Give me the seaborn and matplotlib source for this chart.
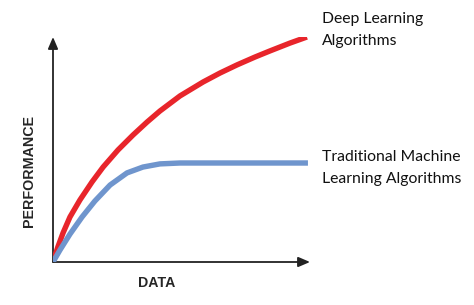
import matplotlib
matplotlib.use("Agg")
import matplotlib.pyplot as plt
import seaborn as sns
import pandas as pd

# Data (arbitrary units, x: 0..10, y: 0..10)
deep_x = [0, 0.19, 0.39, 0.66, 1.05, 1.52, 1.95, 2.53, 3.11, 3.66, 4.16, 4.94,
          5.84, 6.50, 7.16, 7.86, 8.44, 9.22, 9.88]
deep_y = [0, 0.67, 1.29, 2.00, 2.76, 3.56, 4.22, 4.98, 5.64, 6.22, 6.71, 7.38,
          8.00, 8.40, 8.76, 9.11, 9.38, 9.73, 10.0]
trad_x = [0, 0.27, 0.66, 1.13, 1.63, 2.22, 2.88, 3.50, 4.16, 4.94, 9.92]
trad_y = [0, 0.53, 1.24, 2.00, 2.71, 3.42, 3.96, 4.22, 4.36, 4.40, 4.40]

series_names = ["Deep Learning\nAlgorithms", "Traditional Machine\nLearning Algorithms"]
series_colors = ["#e8252b", "#6f95cd"]
x_label = "DATA"
y_label = "PERFORMANCE"

df = pd.concat([
    pd.DataFrame({"data": deep_x, "perf": deep_y, "series": series_names[0]}),
    pd.DataFrame({"data": trad_x, "perf": trad_y, "series": series_names[1]}),
])

sns.set_style("white")
plt.rcParams["font.family"] = ["Lato", "DejaVu Sans"]

W, H = 474, 305
fig = plt.figure(figsize=(W / 100, H / 100), dpi=100)
ax = fig.add_axes([53 / W, 1 - 262 / H, (310 - 53) / W, (262 - 37) / H])

sns.lineplot(data=df, x="data", y="perf", hue="series", sort=False,
             palette=dict(zip(series_names, series_colors)),
             linewidth=3.9, ax=ax, legend=False, estimator=None,
             solid_capstyle="butt", solid_joinstyle="round", zorder=3)

ax.set_xlim(0, 10)
ax.set_ylim(0, 10)
for s in ax.spines.values():
    s.set_visible(False)
ax.set_xticks([])
ax.set_yticks([])
ax.set_xlabel("")
ax.set_ylabel("")

# axis arrows
arrow_kw = dict(arrowstyle="-|>,head_length=0.7,head_width=0.3", color="#222222", lw=1.3,
                shrinkA=0, shrinkB=0)
ax.annotate("", xy=(1, 0), xytext=(0, 0), xycoords="axes fraction",
            arrowprops=arrow_kw, annotation_clip=False, zorder=2)
ax.annotate("", xy=(0, 1), xytext=(0, 0), xycoords="axes fraction",
            arrowprops=arrow_kw, annotation_clip=False, zorder=2)

fig.text(157 / W, 1 - 283 / H, x_label, ha="center", va="center",
         fontsize=10.2, fontweight="bold", family=["Liberation Sans", "DejaVu Sans"])
fig.text(29 / W, 1 - 171 / H, y_label, ha="center", va="center", rotation=90,
         fontsize=10.3, fontweight="bold", family=["Liberation Sans", "DejaVu Sans"])

fig.text(322 / W, 1 - 30 / H, series_names[0], ha="left", va="center",
         fontsize=11.3, linespacing=1.68, color="#111111")
fig.text(322 / W, 1 - 168 / H, series_names[1], ha="left", va="center",
         fontsize=11.3, linespacing=1.68, color="#111111")

fig.savefig("out.png", dpi=100)
